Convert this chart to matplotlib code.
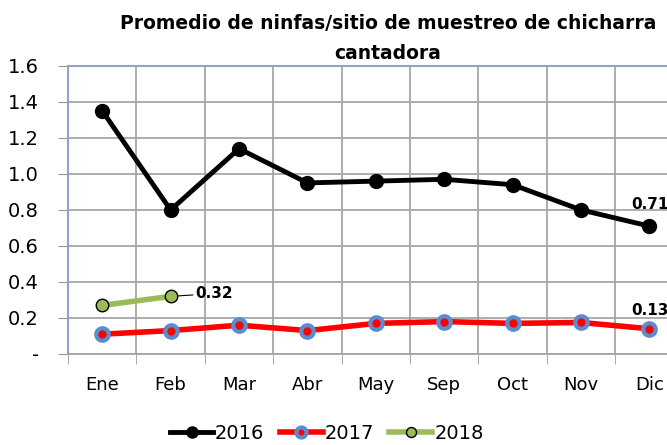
import matplotlib
matplotlib.use("Agg")
import matplotlib.pyplot as plt
import numpy

months = ["Ene", "Feb", "Mar", "Abr", "May", "Sep", "Oct", "Nov", "Dic"]
y2016 = [1.35, 0.80, 1.14, 0.95, 0.96, 0.97, 0.94, 0.80, 0.71]
y2017 = [0.11, 0.13, 0.16, 0.13, 0.17, 0.18, 0.17, 0.175, 0.14]
y2018 = [0.27, 0.32]
yticks = [0, 0.2, 0.4, 0.6, 0.8, 1.0, 1.2, 1.4, 1.6]
ylabels = ["-", "0.2", "0.4", "0.6", "0.8", "1.0", "1.2", "1.4", "1.6"]

plt.rcParams['font.family'] = ['DejaVu Sans']

fig = plt.figure(figsize=(6.67, 4.45), dpi=100)
ax = fig.add_axes([0.102, 0.2045, 0.923, 0.6475])

x = numpy.arange(len(months))
axc = '#8EA4C8'
ax.plot(x, y2016, color='black', lw=3.5, marker='o', ms=10, mfc='black', mec='black',
        label='2016', zorder=5)
ax.plot(x, y2017, color='#FF0000', lw=4, marker='o', ms=9, mfc='#FF0000', mec='#5B8BD0',
        mew=3, label='2017', zorder=4)
ax.plot(x[:len(y2018)], y2018, color='#9BBB59', lw=4, marker='o', ms=9, mfc='#9BBB59',
        mec='black', mew=1, label='2018', zorder=4)

# data labels
ax.annotate('%.2f' % y2016[-1], (x[-1], y2016[-1]), xytext=(0, 10), textcoords='offset points',
            ha='center', va='bottom', fontsize=11, fontweight='bold')
ax.annotate('0.13', (x[-1], y2017[-1]), xytext=(0, 8), textcoords='offset points',
            ha='center', va='bottom', fontsize=11, fontweight='bold')
ax.annotate('%.2f' % y2018[-1], (x[1], y2018[-1]), xytext=(18, 2), textcoords='offset points',
            ha='left', va='center', fontsize=11, fontweight='bold',
            arrowprops=dict(arrowstyle='-', color='black', lw=0.8, shrinkA=0, shrinkB=5))

ax.set_xlim(-0.5, len(months) - 0.5)
ax.set_ylim(0, 1.6)
ax.set_yticks(yticks)
ax.set_yticklabels(ylabels, fontsize=14)
ax.set_xticks(x)
ax.set_xticklabels(months, fontsize=13)
ax.set_xticks(numpy.arange(-0.5, len(months), 1.0), minor=True)
ax.tick_params(axis='x', which='major', length=0, pad=16)
ax.tick_params(axis='x', which='minor', length=7, color='#999999')
ax.tick_params(axis='y', length=7, color='#999999', pad=14)
ax.grid(True, axis='y', color='#A0A0A0', lw=1.2)
ax.grid(True, axis='x', which='minor', color='#A0A0A0', lw=1.2)
ax.set_axisbelow(True)
for side in ['left', 'top']:
    ax.spines[side].set_color(axc)
    ax.spines[side].set_linewidth(1.5)
ax.spines['bottom'].set_color('#A0A0A0')
ax.spines['bottom'].set_linewidth(1.2)
ax.spines['right'].set_visible(False)

ax.set_title('Promedio de ninfas/sitio de muestreo de chicharra\ncantadora',
             fontsize=13.5, fontweight='bold', linespacing=1.75, pad=5, x=0.52)

fig.legend(loc='lower center', bbox_to_anchor=(0.49, -0.035), ncol=3, frameon=False,
           fontsize=14, handlelength=2.2, handletextpad=0.1, columnspacing=0.8,
           markerscale=0.8)

fig.savefig('out.png', dpi=100)
